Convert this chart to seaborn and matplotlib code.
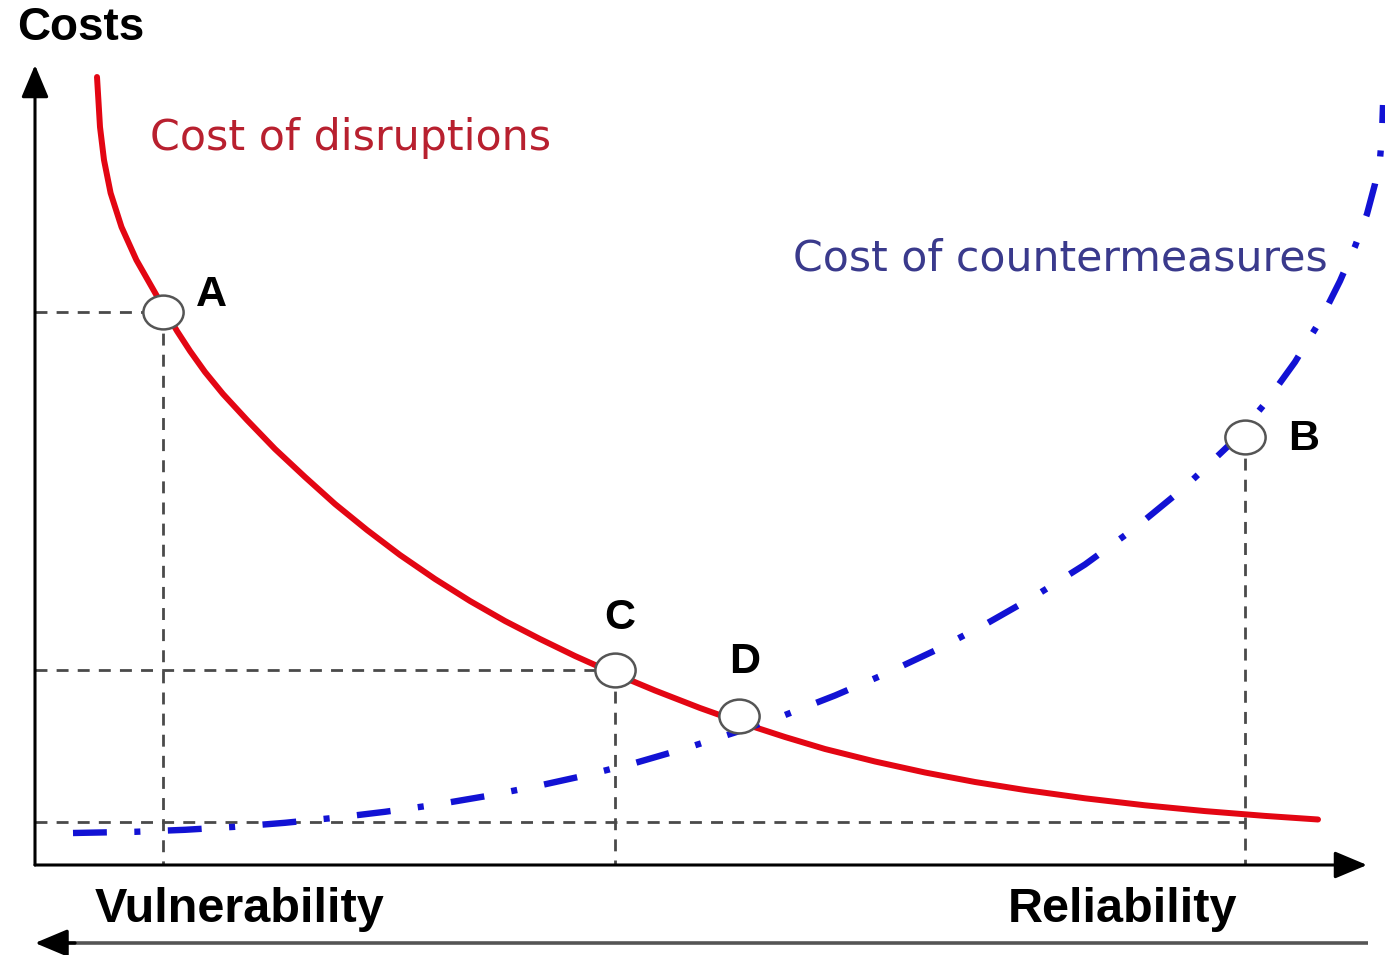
import numpy as np
import pandas as pd
import matplotlib.pyplot as plt
import seaborn as sns
from matplotlib.path import Path
from matplotlib.transforms import Affine2D


# cost curves (x: reliability, y: cost)
disruption_x = [0.62, 0.634, 0.65, 0.69, 0.756, 0.865, 1.014, 1.202, 1.32, 1.42, 1.55,
                1.70, 1.88, 2.12, 2.40, 2.70, 3.00, 3.32, 3.65, 4.00, 4.35, 4.70, 5.05,
                5.40, 5.78, 6.20, 6.65, 7.10, 7.50, 7.90, 8.40, 8.90, 9.40, 9.90,
                10.50, 11.10, 11.70, 12.30, 12.83]
disruption_y = [7.88, 7.65, 7.38, 7.05, 6.72, 6.38, 6.05, 5.72, 5.51, 5.34, 5.14,
                4.93, 4.71, 4.45, 4.16, 3.88, 3.61, 3.35, 3.10, 2.86, 2.64, 2.44, 2.26,
                2.09, 1.92, 1.745, 1.57, 1.41, 1.28, 1.16, 1.035, 0.925, 0.83, 0.75,
                0.667, 0.597, 0.539, 0.491, 0.455]

counter_x = [0.38, 1.00, 1.50, 2.00, 2.50, 3.00, 3.50, 4.00, 4.50, 5.00, 5.50, 6.00,
             6.50, 7.00, 7.50, 8.00, 8.50, 9.00, 9.50, 10.00, 10.50, 11.00, 11.50,
             12.00, 12.30, 12.60, 12.85, 13.05, 13.20, 13.32, 13.40, 13.45, 13.47, 13.48]
counter_y = [0.32, 0.332, 0.352, 0.382, 0.422, 0.472, 0.532, 0.602, 0.687, 0.785,
             0.895, 1.02, 1.165, 1.325, 1.50, 1.695, 1.91, 2.145, 2.405, 2.69, 3.005,
             3.37, 3.78, 4.255, 4.615, 5.03, 5.44, 5.84, 6.185, 6.51, 6.81, 7.06,
             7.30, 7.60]

# marked points
point_names = ["A", "C", "D", "B"]
point_x = [1.28, 5.80, 7.04, 12.10]
point_y = [5.53, 1.95, 1.49, 4.28]
guided_points = ["A", "C"]     # dashed lines to both axes
floor_cost = 0.43              # lowest cost level, dashed line out to B

RED = "#e30613"
BLUE = "#1212d4"
GREY = "#4a4a4a"

sns.set_theme(style="white")
plt.rcParams["font.family"] = ["Liberation Sans", "DejaVu Sans"]
plt.rcParams["text.color"] = "black"

fig = plt.figure(figsize=(13.85, 9.55), dpi=100)
ax = fig.add_axes([0, 0, 1, 1])
ax.set_xlim(-0.35, 13.50)
ax.set_ylim(-0.90, 8.65)
ax.set_axis_off()

disruptions = pd.DataFrame({"x": disruption_x, "y": disruption_y})
counter = pd.DataFrame({"x": counter_x, "y": counter_y})
points = pd.DataFrame({"name": point_names, "x": point_x, "y": point_y})

# guide lines
guide = dict(color=GREY, lw=2.0, dashes=(4.3, 3.3), zorder=1)
for _, p in points[points["name"].isin(guided_points)].iterrows():
    ax.plot([0, p["x"]], [p["y"], p["y"]], **guide)
    ax.plot([p["x"], p["x"]], [p["y"], 0], **guide)
b = points[points["name"] == "B"].iloc[0]
ax.plot([0, b["x"]], [floor_cost, floor_cost], **guide)
ax.plot([b["x"], b["x"]], [b["y"], 0], **guide)

sns.lineplot(data=disruptions, x="x", y="y", sort=False, estimator=None,
             color=RED, linewidth=4.3, zorder=3, ax=ax)
sns.lineplot(data=counter, x="x", y="y", sort=False, estimator=None,
             color=BLUE, linewidth=4.6, linestyle=(0, (5.3, 4.3, 0.95, 4.3)),
             zorder=3, ax=ax)

ellipse = Affine2D().scale(1.0, 0.84).transform_path(Path.unit_circle())
sns.scatterplot(data=points, x="x", y="y", marker=ellipse, s=840,
                facecolor="white", edgecolor="#555555", linewidth=1.8,
                zorder=5, ax=ax)

label_offset = {"A": (0.48, 0.17), "C": (0.05, 0.52), "D": (0.06, 0.54), "B": (0.59, -0.02)}
for _, p in points.iterrows():
    dx, dy = label_offset[p["name"]]
    ax.text(p["x"] + dx, p["y"] + dy, p["name"], fontsize=31, fontweight="bold",
            ha="center", va="center", color="black", zorder=6)

# axes with arrow heads
head = dict(arrowstyle="-|>,head_length=1.0,head_width=0.42", mutation_scale=20,
            shrinkA=0, shrinkB=0)
ax.annotate("", xy=(0, 8.0), xytext=(0, 0),
            arrowprops=dict(color="black", lw=2.2, **head))
ax.annotate("", xy=(13.32, 0), xytext=(0, 0),
            arrowprops=dict(color="black", lw=2.2, **head))
ax.plot([0.2, 13.33], [-0.78, -0.78], color="#555555", lw=2.6, solid_capstyle="butt")
ax.annotate("", xy=(0, -0.78), xytext=(0.4, -0.78),
            arrowprops=dict(color="black", lw=2.4, **head))

ax.text(-0.18, 8.25, "Costs", fontsize=33, fontweight="bold", color="black",
        ha="left", va="baseline")
ax.text(0.60, -0.57, "Vulnerability", fontsize=35, fontweight="bold", color="black",
        ha="left", va="baseline")
ax.text(9.73, -0.57, "Reliability", fontsize=35, fontweight="bold", color="black",
        ha="left", va="baseline")
ax.text(1.15, 7.15, "Cost of disruptions", fontsize=30.8, color="#b8202f",
        family="DejaVu Sans", ha="left", va="baseline")
ax.text(7.58, 5.95, "Cost of countermeasures", fontsize=30.7, color="#3a3a8c",
        family="DejaVu Sans", ha="left", va="baseline")

fig.savefig("out.png", dpi=100)
plt.close(fig)
